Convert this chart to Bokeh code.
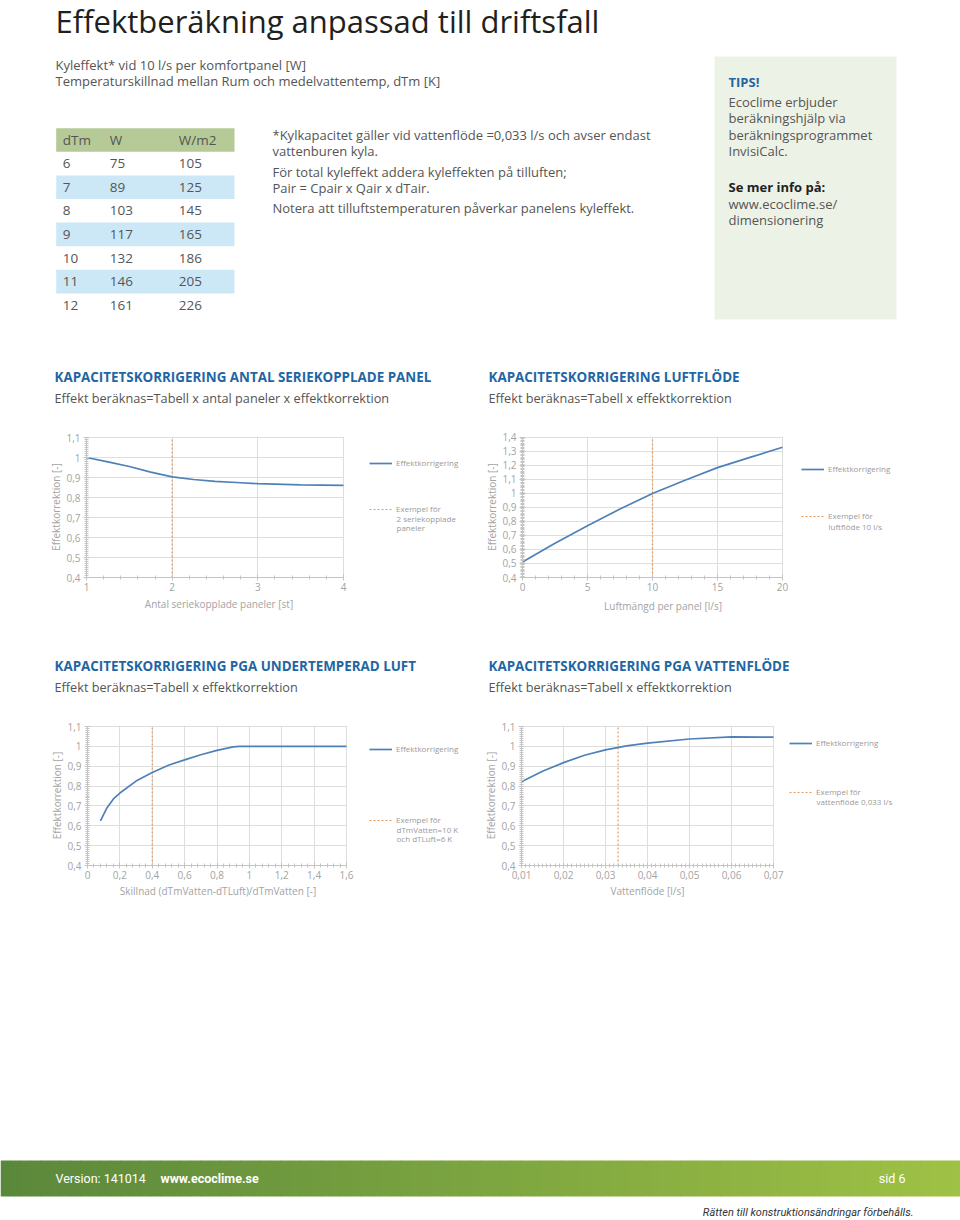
from bokeh.plotting import figure
from bokeh.models import Range1d, FixedTicker, CustomJSTickFormatter, Legend, LegendItem
from bokeh.layouts import column, row
from bokeh.embed import file_html
from bokeh.resources import INLINE
from bokeh.core.properties import value
import numpy as np

FONT = "Open Sans"

# ---------------- data ----------------
title = "Effektberäkning anpassad till driftsfall"
intro_lines = ["Kyleffekt* vid 10 l/s per komfortpanel [W]",
               "Temperaturskillnad mellan Rum och medelvattentemp, dTm [K]"]
table_header = ["dTm", "W", "W/m2"]
table_dtm = [6, 7, 8, 9, 10, 11, 12]
table_w = [75, 89, 103, 117, 132, 146, 161]
table_wm2 = [105, 125, 145, 165, 186, 205, 226]
note_lines = ["*Kylkapacitet gäller vid vattenflöde =0,033 l/s och avser endast",
              "vattenburen kyla.",
              "För total kyleffekt addera kyleffekten på tilluften;",
              "Pair = Cpair x Qair x dTair.",
              "Notera att tilluftstemperaturen påverkar panelens kyleffekt."]
tips_title = "TIPS!"
tips_lines = ["Ecoclime erbjuder", "beräkningshjälp via", "beräkningsprogrammet", "InvisiCalc."]
tips_more = "Se mer info på:"
tips_link = ["www.ecoclime.se/", "dimensionering"]

headings = ["KAPACITETSKORRIGERING ANTAL SERIEKOPPLADE PANEL",
            "KAPACITETSKORRIGERING LUFTFLÖDE",
            "KAPACITETSKORRIGERING PGA UNDERTEMPERAD LUFT",
            "KAPACITETSKORRIGERING PGA VATTENFLÖDE"]
subheadings = ["Effekt beräknas=Tabell x antal paneler x effektkorrektion",
               "Effekt beräknas=Tabell x effektkorrektion",
               "Effekt beräknas=Tabell x effektkorrektion",
               "Effekt beräknas=Tabell x effektkorrektion"]

y_label = "Effektkorrektion [-]"
series_label = "Effektkorrigering"

# chart 1: number of panels in series
panels_x = [1, 1.25, 1.5, 1.75, 2, 2.25, 2.5, 2.75, 3, 3.5, 4]
panels_y = [1.0, 0.978, 0.955, 0.927, 0.903, 0.89, 0.881, 0.875, 0.869, 0.863, 0.861]
panels_example = 2
panels_xticks = [1, 2, 3, 4]
panels_xlabel = "Antal seriekopplade paneler [st]"
panels_legend = ["Exempel för", "2 seriekopplade", "paneler"]

# chart 2: air flow
air_x = [0, 2.5, 5, 7.5, 10, 12.5, 15, 17.5, 20]
air_y = [0.51, 0.645, 0.77, 0.89, 1.0, 1.095, 1.185, 1.258, 1.33]
air_example = 10
air_xticks = [0, 5, 10, 15, 20]
air_xlabel = "Luftmängd per panel [l/s]"
air_legend = ["Exempel för", "luftflöde 10 l/s"]

# chart 3: under-tempered air
under_x = [0.08, 0.12, 0.16, 0.2, 0.3, 0.4, 0.5, 0.6, 0.7, 0.8, 0.9, 0.94, 1.2, 1.6]
under_y = [0.625, 0.69, 0.735, 0.765, 0.825, 0.868, 0.905, 0.932, 0.958, 0.98, 0.997, 1.0, 1.0, 1.0]
under_example = 0.4
under_xticks = [0, 0.2, 0.4, 0.6, 0.8, 1.0, 1.2, 1.4, 1.6]
under_xlabel = "Skillnad (dTmVatten-dTLuft)/dTmVatten [-]"
under_legend = ["Exempel för", "dTmVatten=10 K", "och dTLuft=6 K"]

# chart 4: water flow
water_x = [0.01, 0.015, 0.02, 0.025, 0.03, 0.035, 0.04, 0.05, 0.06, 0.07]
water_y = [0.822, 0.875, 0.918, 0.955, 0.982, 1.002, 1.016, 1.037, 1.048, 1.046]
water_example = 0.033
water_xticks = [0.01, 0.02, 0.03, 0.04, 0.05, 0.06, 0.07]
water_xlabel = "Vattenflöde [l/s]"
water_legend = ["Exempel för", "vattenflöde 0,033 l/s"]

footer_version = "Version: 141014"
footer_web = "www.ecoclime.se"
footer_page = "sid 6"
footer_rights = "Rätten till konstruktionsändringar förbehålls."

# ---------------- style ----------------
C_TEXT = "#555555"
C_TITLE = "#231f20"
C_BLUE_HEAD = "#1f66a4"
C_AX = "#c4c4c4"
C_TICK = "#a3a3a3"
C_GRID = "#dedede"
C_LINE = "#4f81b9"
C_DASH = "#e29a5f"
W = 960


def canvas(top, bottom):
    p = figure(width=W, height=bottom - top, x_range=Range1d(0, W), y_range=Range1d(bottom, top),
               x_axis_type=None, y_axis_type=None, output_backend="svg", toolbar_location=None,
               min_border=0)
    p.outline_line_color = None
    p.grid.visible = False
    return p


def txt(p, xs, ys, texts, size, color, style="normal", align="left", font=FONT):
    p.text(x=xs, y=ys, text=texts, text_font=value(font), text_font_size=f"{size}px",
           text_color=color, text_font_style=style, text_align=align, text_baseline="middle")


def fmt():
    return CustomJSTickFormatter(code="""
        const v = Math.round(tick*1000)/1000;
        return v.toString().replace('.', ',');
    """)


def chart(fx, fy, fw, fh, axl, axr, axt, axb, xs, ys, ex, xlim, ylim, xticks, xminor,
          leg, sample_x, solid_y, dash_y, line_h):
    x0, x1 = xlim
    y0, y1 = ylim
    sx = (x1 - x0) / (axr - axl)
    sy = (y1 - y0) / (axb - axt)
    frame_w = fx + fw - axl
    xr = Range1d(x0, x0 + frame_w * sx)
    yr = Range1d(y0, y1 + sy * 1)
    p = figure(width=fw, height=fh, x_range=xr, y_range=yr, output_backend="svg",
               toolbar_location=None, min_border_left=axl - fx, min_border_right=0,
               min_border_top=axt - 1 - fy, min_border_bottom=fy + fh - axb)
    p.outline_line_color = None
    p.background_fill_color = "white"

    xt = FixedTicker(ticks=xticks, minor_ticks=[float(v) for v in np.round(np.arange(x0, x1 + xminor / 2, xminor), 4)])
    yticks = [float(v) for v in np.round(np.arange(y0, y1 + 0.05, 0.1), 2)]
    yt = FixedTicker(ticks=yticks, minor_ticks=[float(v) for v in np.round(np.arange(y0, y1 + 0.005, 0.01), 3)])
    p.xaxis.ticker = xt
    p.xgrid.ticker = xt
    p.yaxis.ticker = yt
    p.ygrid.ticker = yt
    for ax in (p.xaxis[0], p.yaxis[0]):
        ax.formatter = fmt()
        ax.axis_line_color = C_AX
        ax.major_tick_line_color = C_AX
        ax.minor_tick_line_color = C_AX
        ax.major_tick_in = 3
        ax.major_tick_out = 3
        ax.minor_tick_in = 2
        ax.minor_tick_out = 2
        ax.major_label_text_color = C_TICK
        ax.major_label_text_font = FONT
        ax.major_label_text_font_size = "10px"
        ax.axis_label_text_color = C_TICK
        ax.axis_label_text_font = FONT
        ax.axis_label_text_font_size = "10px"
        ax.axis_label_text_font_style = "normal"
    p.xaxis.bounds = (x0, x1)
    p.yaxis.bounds = (y0, y1)
    p.xaxis.major_label_standoff = 2
    p.yaxis.major_label_standoff = 3
    p.yaxis.axis_label = y_label
    p.yaxis.axis_label_standoff = 0
    p.grid.grid_line_color = C_GRID
    p.grid.grid_line_width = 1
    if "cross_bounds" in p.ygrid[0].properties():
        p.ygrid.cross_bounds = (x0, x1)
    else:
        p.quad(left=[x1 + sx], right=[xr.end], bottom=[y0 + sy], top=[yr.end],
               fill_color="white", line_color=None)

    ex_r = p.line(x=[ex, ex], y=[y0, y1], line_color=C_DASH, line_width=1.2, line_dash="2 2")
    ln_r = p.line(x=xs, y=ys, line_color=C_LINE, line_width=1.7)

    item_h = 10
    legend = Legend(items=[LegendItem(label=series_label, renderers=[ln_r]),
                           LegendItem(label=leg[0], renderers=[ex_r])],
                    location=(sample_x - axl, axb - (dash_y + item_h / 2)),
                    spacing=int(dash_y - solid_y - item_h), padding=0, margin=0,
                    glyph_width=23, glyph_height=item_h, label_height=item_h, label_standoff=4,
                    label_text_font=FONT, label_text_font_size="8px", label_text_color="#9a9a9a",
                    border_line_color=None, background_fill_alpha=0)
    p.add_layout(legend)
    tx = x0 + (sample_x + 27 - axl) * sx
    extra = leg[1:]
    eys = [y0 + (axb - (dash_y + line_h * (i + 1))) * sy for i in range(len(extra))]
    txt(p, [tx] * len(extra), eys, extra, 8, "#9a9a9a")
    return p


# ---------------- header ----------------
hdr = canvas(0, 415)
txt(hdr, [55], [20], [title], 31, C_TITLE)
txt(hdr, [55, 55], [64, 80], intro_lines, 13, C_TEXT)

row_top = [127.7 + 23.6 * i for i in range(len(table_dtm) + 1)]
hdr.quad(left=[55.7], right=[234], top=[row_top[0]], bottom=[row_top[1]], fill_color="#b5ca96", line_color=None)
band_idx = [i + 1 for i in range(len(table_dtm)) if i % 2 == 1]
hdr.quad(left=[55.7] * len(band_idx), right=[234] * len(band_idx),
         top=[row_top[i] for i in band_idx], bottom=[row_top[i + 1] for i in band_idx],
         fill_color="#cce8f6", line_color=None)
row_c = [t + 11.8 for t in row_top]
txt(hdr, [62.3, 109.3, 178.3], [row_c[0]] * 3, table_header, 13.5, C_TEXT)
txt(hdr, [62.3] * len(table_dtm), row_c[1:], [str(v) for v in table_dtm], 13.5, C_TEXT)
txt(hdr, [109.3] * len(table_w), row_c[1:], [str(v) for v in table_w], 13.5, C_TEXT)
txt(hdr, [178.3] * len(table_wm2), row_c[1:], [str(v) for v in table_wm2], 13.5, C_TEXT)

txt(hdr, [272] * 5, [134, 150, 171, 187, 207.3], note_lines, 13, C_TEXT)

hdr.quad(left=[714], right=[896], top=[56], bottom=[319], fill_color="#edf2e6", line_color=None)
txt(hdr, [728], [81], [tips_title], 13, C_BLUE_HEAD, style="bold")
txt(hdr, [728] * 4, [101.7, 117.7, 134, 150], tips_lines, 13, C_TEXT)
txt(hdr, [728], [186.7], [tips_more], 13, "#222222", style="bold")
txt(hdr, [728] * 2, [203.3, 219.3], tips_link, 13, C_TEXT)

txt(hdr, [54, 488], [376, 376], headings[:2], 13.4, C_BLUE_HEAD, style="bold")
txt(hdr, [54, 488], [397, 397], subheadings[:2], 12.7, C_TEXT)

# ---------------- charts row 1 ----------------
c1 = chart(0, 415, 480, 182, 86, 343, 437, 577, panels_x, panels_y, panels_example, (1, 4), (0.4, 1.1),
           panels_xticks, 0.2, panels_legend, 369, 464, 509, 9)
c2 = chart(480, 415, 480, 182, 522, 782, 436, 578, air_x, air_y, air_example, (0, 20), (0.4, 1.4),
           air_xticks, 1, air_legend, 801, 471, 517, 9.5)

# ---------------- x-axis titles of row 1 + middle headings ----------------
mid = canvas(597, 705)
txt(mid, [218.5, 662.5], [603.5, 605], [panels_xlabel, air_xlabel], 10, C_TICK, align="center")
txt(mid, [54, 488], [665, 665], headings[2:], 13.4, C_BLUE_HEAD, style="bold")
txt(mid, [54, 488], [686, 686], subheadings[2:], 12.7, C_TEXT)

# ---------------- charts row 2 ----------------
c3 = chart(0, 705, 480, 179, 87, 346, 726, 865, under_x, under_y, under_example, (0, 1.6), (0.4, 1.1),
           under_xticks, 0.04, under_legend, 369, 750, 820, 9)
c4 = chart(480, 705, 480, 179, 521, 773, 726, 865, water_x, water_y, water_example, (0.01, 0.07), (0.4, 1.1),
           water_xticks, 0.001, water_legend, 789, 744, 792, 9)

# ---------------- x-axis titles of row 2 + footer ----------------
ftr = canvas(884, 1220)
txt(ftr, [217.5, 647], [890.5, 890.5], [under_xlabel, water_xlabel], 10, C_TICK, align="center")
n = 96
edges = np.linspace(0, W, n + 1)
c_a = np.array([0x5a, 0x88, 0x3b])
c_b = np.array([0x9f, 0xc1, 0x45])
cols = ["#%02x%02x%02x" % tuple(int(round(v)) for v in c_a + (c_b - c_a) * (i + 0.5) / n) for i in range(n)]
ftr.quad(left=edges[:-1], right=edges[1:] + 0.5, top=[1160] * n, bottom=[1196] * n, fill_color=cols, line_color=None)
txt(ftr, [55], [1178], [footer_version], 12.5, "white", font="Roboto")
txt(ftr, [160], [1178], [footer_web], 12.5, "white", style="bold", font="Roboto")
txt(ftr, [905], [1178], [footer_page], 12.5, "white", align="right", font="Roboto")
txt(ftr, [913], [1212], [footer_rights], 11, "#333333", style="italic", align="right", font="Roboto")

layout = column(hdr, row(c1, c2), mid, row(c3, c4), ftr)
open("out.html", "w").write(file_html(layout, INLINE))
